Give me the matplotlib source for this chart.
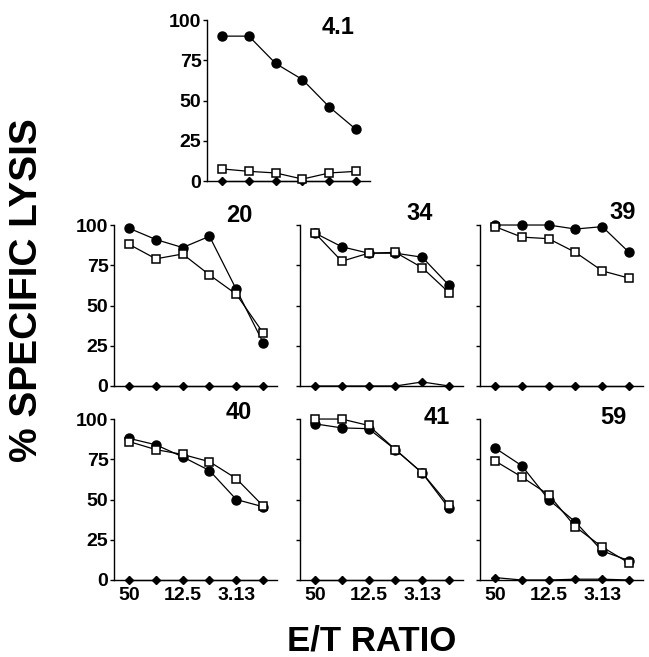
import matplotlib
matplotlib.use("Agg")
import matplotlib.pyplot as plt

plt.rcParams['font.family'] = ['Liberation Sans', 'DejaVu Sans']
plt.rcParams['font.weight'] = 'bold'

# E/T ratios (only every other one is labelled)
ratios = ['50', '25', '12.5', '6.25', '3.13', '1.56']
tick_labels = ['50', '', '12.5', '', '3.13', '']

panel_names = ['4.1', '20', '34', '39', '40', '41', '59']

# % specific lysis, filled circles
circles = {
    '4.1': [90, 90, 73, 63, 46, 32],
    '20': [98, 91, 86, 93, 60, 27],
    '34': [95, 86.5, 82.5, 82.5, 80, 62.5],
    '39': [100, 100, 100, 97.5, 99, 83],
    '40': [88, 84, 76.5, 68, 50, 45.5],
    '41': [97, 94.5, 94, 81, 66.5, 44.5],
    '59': [82, 71, 50, 36, 18, 12],
}
# open squares
squares = {
    '4.1': [7.5, 6, 5, 1.2, 5, 6],
    '20': [88, 79, 82, 69, 57, 33],
    '34': [95, 77.5, 82.5, 83, 73.5, 58],
    '39': [99, 92.5, 91.5, 83, 71.5, 67],
    '40': [86, 81, 78, 73.5, 63, 46],
    '41': [100, 100, 96, 81, 66.5, 46.5],
    '59': [74, 64, 53, 33, 20.5, 10.5],
}
# filled diamonds (background)
diamonds = {
    '4.1': [0, 0, 0, 0, 0, 0],
    '20': [0, 0, 0, 0, 0, 0],
    '34': [0, 0, 0, 0, 2.5, 0],
    '39': [0, 0, 0, 0, 0, 0],
    '40': [0, 0, 0, 0, 0, 0],
    '41': [0, 0, 0, 0, 0, 0],
    '59': [1.5, 0, 0, 0.5, 0.5, 0],
}

# axes placement in figure fractions: left, bottom
W, H = 0.2512, 0.245
pos = {
    '4.1': (0.319, 0.7245),
    '20': (0.1757, 0.4125), '34': (0.4622, 0.4125), '39': (0.7396, 0.4125),
    '40': (0.1757, 0.1172), '41': (0.4622, 0.1172), '59': (0.7396, 0.1172),
}
title_xy = {
    '4.1': (4.93, 95.6), '20': (4.59, 106), '34': (4.4, 107), '39': (5.26, 108),
    '40': (4.59, 104), '41': (5.04, 101), '59': (4.89, 101),
}
ylabeled = ['4.1', '20', '40']
xlabeled = ['40', '41', '59']

fig = plt.figure(figsize=(6.49, 6.57), dpi=100)
x = list(range(len(ratios)))

for name in panel_names:
    l, b = pos[name]
    ax = fig.add_axes([l, b, W, H])
    ax.plot(x, diamonds[name], color='black', lw=0.9, marker='D', ms=4.5,
            clip_on=False, zorder=3)
    ax.plot(x, circles[name], color='black', lw=0.9, marker='o', ms=6.5,
            mfc='black', mec='black', clip_on=False, zorder=4)
    ax.plot(x, squares[name], color='black', lw=0.9, marker='s', ms=6,
            mfc='white', mec='black', mew=1.1, clip_on=False, zorder=5)
    ax.set_xlim(-0.56, 5.52)
    ax.set_ylim(0, 100)
    for s in ['top', 'right']:
        ax.spines[s].set_visible(False)
    for s in ['left', 'bottom']:
        ax.spines[s].set_linewidth(1.0)
    ax.set_yticks([0, 25, 50, 75, 100])
    ax.set_xticks(x)
    ax.tick_params(axis='y', direction='out', length=3, width=1, pad=1,
                   labelsize=14)
    ax.tick_params(axis='x', direction='in', length=3, width=1, pad=5,
                   labelsize=14)
    if name in ylabeled:
        ax.set_yticklabels(['0', '25', '50', '75', '100'], fontweight='bold')
    else:
        ax.set_yticklabels([])
    if name in xlabeled:
        ax.set_xticklabels(tick_labels, fontweight='bold')
    else:
        ax.set_xticklabels([])
    tx, ty = title_xy[name]
    ax.text(tx, ty, name, ha='right', va='center', fontsize=17,
            fontweight='bold')

fig.text(0.0416, 0.5586, '% SPECIFIC LYSIS', rotation=90, ha='center',
         va='center', fontsize=28, fontweight='bold')
fig.text(0.5724, 0.0244, 'E/T RATIO', ha='center', va='center',
         fontsize=25, fontweight='bold')

fig.savefig('out.png', dpi=100)
